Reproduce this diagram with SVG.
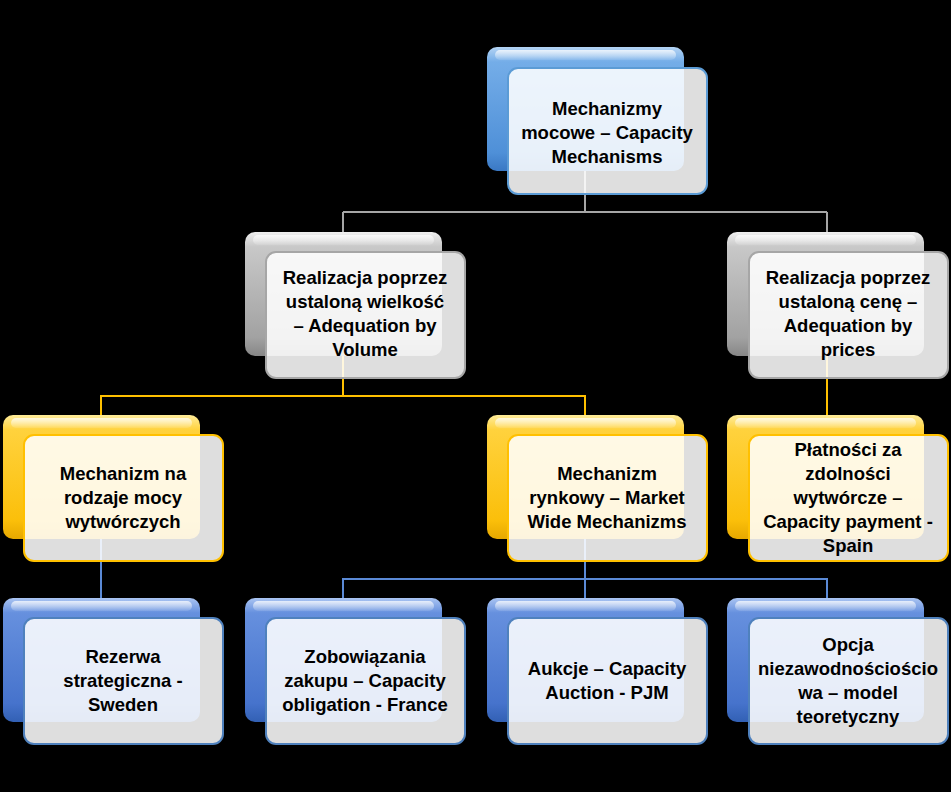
<svg xmlns="http://www.w3.org/2000/svg" width="951" height="792" viewBox="0 0 951 792">
<defs>
<linearGradient id="gBlueTop" x1="0" y1="0" x2="0" y2="1">
<stop offset="0" stop-color="#b4d4f4"/><stop offset="0.12" stop-color="#74ade8"/><stop offset="0.85" stop-color="#4f90d8"/><stop offset="1" stop-color="#3a78c4"/>
</linearGradient>
<linearGradient id="gBlue" x1="0" y1="0" x2="0" y2="1">
<stop offset="0" stop-color="#aac4f2"/><stop offset="0.12" stop-color="#6690de"/><stop offset="0.85" stop-color="#4673cc"/><stop offset="1" stop-color="#3260b4"/>
</linearGradient>
<linearGradient id="gGray" x1="0" y1="0" x2="0" y2="1">
<stop offset="0" stop-color="#f0f0f0"/><stop offset="0.12" stop-color="#c8c8c8"/><stop offset="0.85" stop-color="#a2a2a2"/><stop offset="1" stop-color="#868686"/>
</linearGradient>
<linearGradient id="gYellow" x1="0" y1="0" x2="0" y2="1">
<stop offset="0" stop-color="#ffec99"/><stop offset="0.12" stop-color="#ffd23d"/><stop offset="0.85" stop-color="#fbbf0a"/><stop offset="1" stop-color="#e6a800"/>
</linearGradient>
<linearGradient id="gShine" x1="0" y1="0" x2="0" y2="1">
<stop offset="0" stop-color="#ffffff" stop-opacity="0.75"/><stop offset="1" stop-color="#ffffff" stop-opacity="0.1"/>
</linearGradient>
</defs>
<style>
.bg{fill:#000000}
.back{stroke:none}
.shine{fill:url(#gShine)}
.front{fill:#ffffff;fill-opacity:0.87;stroke-width:2}
.t{font-family:"Liberation Sans",Arial,sans-serif;font-weight:bold;font-size:18.5px;fill:#000000;text-anchor:middle}
.cg{stroke:#a6a6a6}
.cy{stroke:#ffc000}
.cb{stroke:#5b8ad6}
#connectors path{fill:none;stroke-width:2}
.bt .back{fill:url(#gBlueTop)} .bt .front{stroke:#5b9bd5}
.bb .back{fill:url(#gBlue)} .bb .front{stroke:#4f81bd}
.gr .back{fill:url(#gGray)} .gr .front{stroke:#a6a6a6}
.ye .back{fill:url(#gYellow)} .ye .front{stroke:#ffc000}
</style>
<rect class="bg" x="0" y="0" width="951" height="792"/>
<g id="connectors">
<path class="cg" d="M585,171 V212 M343,212 H827 M343,212 V232 M827,212 V232"/>
<path class="cy" d="M343,355 V396 H101 V415 M343,396 H585 V415 M827,355 V415"/>
<path class="cb" d="M101,538 V598 M585,538 V579 H343 V598 M585,579 H827 V598 M585,579 V598"/>
</g>
<g id="n1" class="bt">
<rect class="back" x="487" y="47" width="197" height="124" rx="10"/>
<rect class="shine" x="495" y="50" width="181" height="10" rx="5"/>
<rect class="front" x="508" y="68" width="199" height="126" rx="10"/>
<text class="t" x="607" y="115">Mechanizmy</text>
<text class="t" x="607" y="139">mocowe – Capacity</text>
<text class="t" x="607" y="163">Mechanisms</text>
</g>
<g id="n2" class="gr">
<rect class="back" x="245" y="232" width="197" height="124" rx="10"/>
<rect class="shine" x="253" y="235" width="181" height="10" rx="5"/>
<rect class="front" x="266" y="252" width="199" height="126" rx="10"/>
<text class="t" x="365" y="284">Realizacja poprzez</text>
<text class="t" x="365" y="308">ustaloną wielkość</text>
<text class="t" x="365" y="332">– Adequation by</text>
<text class="t" x="365" y="356">Volume</text>
</g>
<g id="n3" class="gr">
<rect class="back" x="727" y="232" width="197" height="124" rx="10"/>
<rect class="shine" x="735" y="235" width="181" height="10" rx="5"/>
<rect class="front" x="749" y="252" width="199" height="126" rx="10"/>
<text class="t" x="848" y="284">Realizacja poprzez</text>
<text class="t" x="848" y="308">ustaloną cenę –</text>
<text class="t" x="848" y="332">Adequation by</text>
<text class="t" x="848" y="356">prices</text>
</g>
<g id="n4" class="ye">
<rect class="back" x="3" y="415" width="197" height="124" rx="10"/>
<rect class="shine" x="11" y="418" width="181" height="10" rx="5"/>
<rect class="front" x="24" y="435" width="199" height="126" rx="10"/>
<text class="t" x="123" y="480">Mechanizm na</text>
<text class="t" x="123" y="504">rodzaje mocy</text>
<text class="t" x="123" y="528">wytwórczych</text>
</g>
<g id="n5" class="ye">
<rect class="back" x="487" y="415" width="197" height="124" rx="10"/>
<rect class="shine" x="495" y="418" width="181" height="10" rx="5"/>
<rect class="front" x="508" y="435" width="199" height="126" rx="10"/>
<text class="t" x="607" y="480">Mechanizm</text>
<text class="t" x="607" y="504">rynkowy – Market</text>
<text class="t" x="607" y="528">Wide Mechanizms</text>
</g>
<g id="n6" class="ye">
<rect class="back" x="727" y="415" width="197" height="124" rx="10"/>
<rect class="shine" x="735" y="418" width="181" height="10" rx="5"/>
<rect class="front" x="749" y="435" width="199" height="126" rx="10"/>
<text class="t" x="848" y="456">Płatności za</text>
<text class="t" x="848" y="480">zdolności</text>
<text class="t" x="848" y="504">wytwórcze –</text>
<text class="t" x="848" y="528">Capacity payment -</text>
<text class="t" x="848" y="552">Spain</text>
</g>
<g id="n7" class="bb">
<rect class="back" x="3" y="598" width="197" height="124" rx="10"/>
<rect class="shine" x="11" y="601" width="181" height="10" rx="5"/>
<rect class="front" x="24" y="618" width="199" height="126" rx="10"/>
<text class="t" x="123" y="663">Rezerwa</text>
<text class="t" x="123" y="687">strategiczna -</text>
<text class="t" x="123" y="711">Sweden</text>
</g>
<g id="n8" class="bb">
<rect class="back" x="245" y="598" width="197" height="124" rx="10"/>
<rect class="shine" x="253" y="601" width="181" height="10" rx="5"/>
<rect class="front" x="266" y="618" width="199" height="126" rx="10"/>
<text class="t" x="365" y="663">Zobowiązania</text>
<text class="t" x="365" y="687">zakupu – Capacity</text>
<text class="t" x="365" y="711">obligation - France</text>
</g>
<g id="n9" class="bb">
<rect class="back" x="487" y="598" width="197" height="124" rx="10"/>
<rect class="shine" x="495" y="601" width="181" height="10" rx="5"/>
<rect class="front" x="508" y="618" width="199" height="126" rx="10"/>
<text class="t" x="607" y="675">Aukcje – Capacity</text>
<text class="t" x="607" y="699">Auction - PJM</text>
</g>
<g id="n10" class="bb">
<rect class="back" x="727" y="598" width="197" height="124" rx="10"/>
<rect class="shine" x="735" y="601" width="181" height="10" rx="5"/>
<rect class="front" x="749" y="618" width="199" height="126" rx="10"/>
<text class="t" x="848" y="651">Opcja</text>
<text class="t" x="848" y="675">niezawodnościościo</text>
<text class="t" x="848" y="699">wa – model</text>
<text class="t" x="848" y="723">teoretyczny</text>
</g>
</svg>
